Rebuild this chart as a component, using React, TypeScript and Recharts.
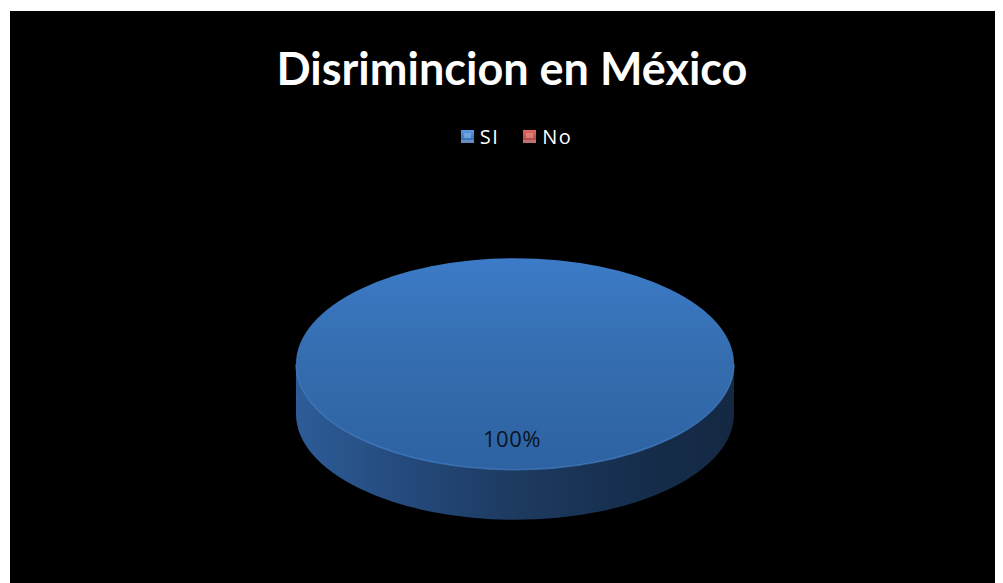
import React from "react";
import { PieChart, Pie, Legend } from "recharts";

const categories = ["SI", "No"];
const values = [100, 0];
const colors = ["#3a77c2", "#c0504d"];
const title = "Disrimincion en México";

const data = categories.map((name, i) => ({ name, value: values[i], fill: colors[i] }));

const W = 993;
const H = 572;
const FLAT = 0.483; // vertical flattening of the 3D pie
const DEPTH = 50;

function pt(cx: number, cy: number, r: number, deg: number) {
  const a = (-deg * Math.PI) / 180;
  return [cx + r * Math.cos(a), cy + r * FLAT * Math.sin(a)];
}

const Shape3D = (props: any) => {
  const { cx, cy, outerRadius, startAngle, endAngle } = props;
  if (Math.abs(endAngle - startAngle) < 0.01) return null;
  const rx = outerRadius;
  const ry = outerRadius * FLAT;
  const full = Math.abs(endAngle - startAngle) >= 359.99;
  const side = `M${cx - rx},${cy} L${cx - rx},${cy + DEPTH} A${rx},${ry} 0 0 0 ${cx + rx},${cy + DEPTH} L${cx + rx},${cy} A${rx},${ry} 0 0 1 ${cx - rx},${cy} Z`;
  let top: React.ReactNode;
  if (full) {
    top = <ellipse cx={cx} cy={cy} rx={rx} ry={ry} fill="url(#topGrad)" />;
  } else {
    const [x1, y1] = pt(cx, cy, rx, startAngle);
    const [x2, y2] = pt(cx, cy, rx, endAngle);
    const large = Math.abs(endAngle - startAngle) > 180 ? 1 : 0;
    top = <path d={`M${cx},${cy} L${x1},${y1} A${rx},${ry} 0 ${large} 1 ${x2},${y2} Z`} fill="url(#topGrad)" />;
  }
  return (
    <g>
      <defs>
        <linearGradient id="sideGrad" x1="0" y1="0" x2="1" y2="0">
          <stop offset="0" stopColor="#2d5c98" />
          <stop offset="0.25" stopColor="#244a7c" />
          <stop offset="0.5" stopColor="#1d3a60" />
          <stop offset="0.8" stopColor="#152d4b" />
          <stop offset="1" stopColor="#142842" />
        </linearGradient>
        <linearGradient id="topGrad" x1="0" y1="0" x2="0" y2="1">
          <stop offset="0" stopColor="#3c7bc8" />
          <stop offset="0.5" stopColor="#346dae" />
          <stop offset="1" stopColor="#2e62a2" />
        </linearGradient>
      </defs>
      <path d={side} fill="url(#sideGrad)" />
      {top}
      <path
        d={`M${cx - rx},${cy} A${rx},${ry} 0 0 0 ${cx + rx},${cy}`}
        fill="none"
        stroke="#4a88d4"
        strokeOpacity={0.6}
        strokeWidth={1.5}
      />
    </g>
  );
};

const renderLabel = (props: any) => {
  const { cx, cy, outerRadius, percent, value } = props;
  if (!value) return null;
  return (
    <text
      x={cx - 3}
      y={cy + outerRadius * 0.34}
      textAnchor="middle"
      dominantBaseline="central"
      fill="#0a1420"
      fontFamily="'Open Sans', sans-serif"
      fontSize={22}
      letterSpacing={0.5}
    >
      {`${Math.round(percent * 100)}%`}
    </text>
  );
};

const LegendContent = () => (
  <div style={{ display: "flex", justifyContent: "center", alignItems: "center", fontFamily: "'Open Sans', sans-serif", fontSize: 20, color: "#ffffff", paddingLeft: 20 }}>
    {data.map((d, i) => (
      <div key={d.name} style={{ display: "flex", alignItems: "center", marginRight: i === 0 ? 24 : 0 }}>
        <svg width={13} height={13} style={{ marginRight: 6 }}>
          <defs>
            <linearGradient id={`lg${i}`} x1="0" y1="0" x2="0" y2="1">
              <stop offset="0" stopColor={i === 0 ? "#5a9ae6" : "#e06a66"} />
              <stop offset="1" stopColor={i === 0 ? "#2f62a2" : "#a0403d"} />
            </linearGradient>
          </defs>
          <rect x={0} y={0} width={13} height={13} fill={`url(#lg${i})`} />
          <rect x={3} y={3} width={7} height={5} fill={i === 0 ? "#79b2f0" : "#ee8a86"} opacity={0.7} />
          <rect x={0} y={10} width={13} height={3} fill="#ffffff" opacity={0.25} />
        </svg>
        <span style={{ letterSpacing: 1.5 }}>{d.name}</span>
      </div>
    ))}
  </div>
);

export default function App() {
  return (
    <div style={{ marginLeft: 2, marginTop: 3, width: W, height: H, background: "#000000" }}>
      <PieChart width={W} height={H} margin={{ top: 0, right: 0, bottom: 0, left: 0 }}>
        <text
          x={502}
          y={74}
          textAnchor="middle"
          fill="#ffffff"
          fontFamily="Lato, 'Open Sans', sans-serif"
          fontWeight="bold"
          fontSize={45}
        >
          {title}
        </text>
        <Legend verticalAlign="top" align="center" content={LegendContent} wrapperStyle={{ top: 112, left: 0, width: W }} />
        <Pie
          data={data}
          dataKey="value"
          nameKey="name"
          cx={505}
          cy={326}
          outerRadius={219}
          startAngle={90}
          endAngle={-270}
          stroke="none"
          shape={Shape3D}
          label={renderLabel}
          labelLine={false}
          isAnimationActive={false}
        />
      </PieChart>
    </div>
  );
}
